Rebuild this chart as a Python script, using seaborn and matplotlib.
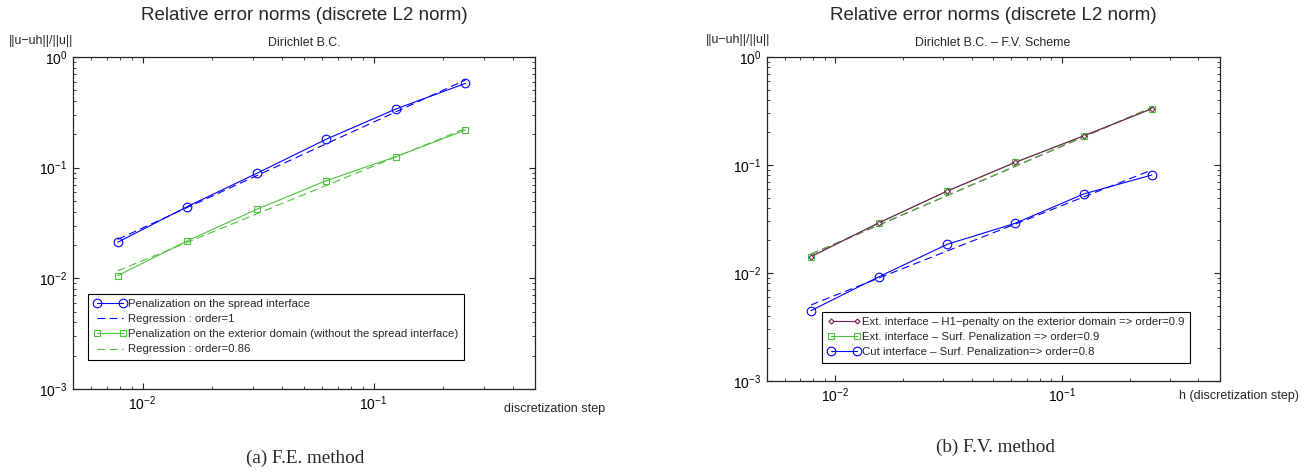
import numpy as np
import pandas as pd
import matplotlib
matplotlib.use("Agg")
import matplotlib.pyplot as plt
from matplotlib.ticker import LogLocator, NullFormatter
import seaborn as sns

# Discretization steps
h = [1/128, 1/64, 1/32, 1/16, 1/8, 1/4]
h_ends = [1/128, 1/4]

# (a) F.E. method
fe_spread = [0.0212, 0.0445, 0.0889, 0.181, 0.339, 0.578]
fe_spread_reg = [0.0225, 0.62]
fe_exterior = [0.01057, 0.0218, 0.0421, 0.0763, 0.1258, 0.219]
fe_exterior_reg = [0.0117, 0.226]

# (b) F.V. method
fv_h1 = [0.01416, 0.0292, 0.0574, 0.106, 0.186, 0.332]
fv_h1_reg = [0.0149, 0.340]
fv_surf = [0.01416, 0.0292, 0.0574, 0.106, 0.186, 0.332]
fv_surf_reg = [0.0150, 0.342]
fv_cut = [0.00448, 0.00925, 0.01844, 0.0289, 0.0539, 0.0808]
fv_cut_reg = [0.00506, 0.0899]

labels_fe = ["Penalization on the spread interface",
             "Regression : order=1",
             "Penalization on the exterior domain (without the spread interface)",
             "Regression : order=0.86"]
labels_fv = ["Ext. interface \u2013 H1\u2212penalty on the exterior domain => order=0.9",
             "Ext. interface \u2013 Surf. Penalization => order=0.9",
             "Cut interface \u2013 Surf. Penalization=> order=0.8"]

BLUE = "#0000ff"
GREEN = "#4cc43a"
PURPLE = "#7d1c5c"
DASH = (0, (7, 4))

sns.set_style("ticks")
plt.rcParams["font.family"] = ["Liberation Sans", "DejaVu Sans"]
plt.rcParams["mathtext.fontset"] = "custom"
plt.rcParams["mathtext.rm"] = "Liberation Sans"
plt.rcParams["mathtext.it"] = "Liberation Sans:italic"
plt.rcParams["axes.linewidth"] = 0.9
plt.rcParams["axes.edgecolor"] = "#222222"

W, H = 1309, 472
fig = plt.figure(figsize=(W / 100, H / 100), dpi=100)


def px_axes(x0, y0, x1, y1):
    return fig.add_axes([x0 / W, 1 - y1 / H, (x1 - x0) / W, (y1 - y0) / H])


def series(ax, x, y, color, ls="-", marker=None, ms=6, mfc="none", label=None, z=2):
    df = pd.DataFrame({"h": x, "err": y})
    sns.lineplot(data=df, x="h", y="err", ax=ax, color=color, linestyle=ls,
                 marker=marker, markersize=ms, markerfacecolor=mfc,
                 markeredgecolor=color, markeredgewidth=0.8, linewidth=0.8,
                 errorbar=None, label=label, legend=False, zorder=z)


def style_axes(ax):
    ax.set_xscale("log")
    ax.set_yscale("log")
    ax.set_xlim(0.005, 0.5)
    ax.set_ylim(1e-3, 1)
    ax.xaxis.set_major_locator(LogLocator(base=10, numticks=10))
    ax.yaxis.set_major_locator(LogLocator(base=10, numticks=10))
    ax.xaxis.set_minor_locator(LogLocator(base=10, subs=np.arange(2, 10), numticks=20))
    ax.yaxis.set_minor_locator(LogLocator(base=10, subs=np.arange(2, 10), numticks=20))
    ax.xaxis.set_minor_formatter(NullFormatter())
    ax.yaxis.set_minor_formatter(NullFormatter())
    ax.tick_params(which="both", direction="in", top=True, right=True,
                   colors="#222222", labelcolor="black", labelsize=10)
    ax.tick_params(which="major", length=4, width=0.8, pad=4)
    ax.tick_params(which="minor", length=2.5, width=0.6)
    ax.set_xlabel("")
    ax.set_ylabel("")
    for s in ax.spines.values():
        s.set_visible(True)


def legend(ax, anchor):
    leg = ax.legend(loc="upper left", bbox_to_anchor=anchor, fontsize=8.2,
                    frameon=True, fancybox=False, edgecolor="black",
                    framealpha=1, borderaxespad=0, borderpad=0.45,
                    labelspacing=0.45, handlelength=2.9, handletextpad=0.2,
                    numpoints=2)
    leg.get_frame().set_linewidth(0.8)


# ---- (a) F.E. method ----
ax1 = px_axes(73, 57, 535, 389)
style_axes(ax1)
series(ax1, h, fe_spread, BLUE, marker="o", ms=6.2, label=labels_fe[0])
series(ax1, h_ends, fe_spread_reg, BLUE, ls=DASH, label=labels_fe[1])
series(ax1, h, fe_exterior, GREEN, marker="s", ms=4.8, label=labels_fe[2])
series(ax1, h_ends, fe_exterior_reg, GREEN, ls=DASH, label=labels_fe[3])
style_axes(ax1)
legend(ax1, ((88 - 73) / 462, (389 - 294) / 332))

# ---- (b) F.V. method ----
ax2 = px_axes(767, 57, 1220, 381)
style_axes(ax2)
series(ax2, h, fv_h1, PURPLE, marker="D", ms=2.6, mfc="white", label=labels_fv[0], z=3)
series(ax2, h_ends, fv_h1_reg, PURPLE, ls=DASH, z=2)
series(ax2, h, fv_surf, GREEN, marker="s", ms=4.8, label=labels_fv[1], z=2)
series(ax2, h_ends, fv_surf_reg, GREEN, ls=DASH, z=2)
series(ax2, h, fv_cut, BLUE, marker="o", ms=6.2, label=labels_fv[2], z=2)
series(ax2, h_ends, fv_cut_reg, BLUE, ls=DASH, z=2)
style_axes(ax2)
legend(ax2, ((822 - 767) / 453, (381 - 312) / 324))

# ---- text around the panels ----
def ftext(x, y, s, **kw):
    fig.text(x / W, 1 - y / H, s, **kw)

ftext(304, 16, "Relative error norms (discrete L2 norm)", ha="center", va="center", fontsize=13.5)
ftext(993, 15, "Relative error norms (discrete L2 norm)", ha="center", va="center", fontsize=13.5)
ftext(304, 43, "Dirichlet B.C.", ha="center", va="center", fontsize=8.9)
ftext(993, 43, "Dirichlet B.C. \u2013 F.V. Scheme", ha="center", va="center", fontsize=8.9)
ftext(73, 41, "||u\u2212uh||/||u||", ha="right", va="center", fontsize=9)
ftext(770, 40, "||u\u2212uh||/||u||", ha="right", va="center", fontsize=9)
ftext(504, 409, "discretization step", ha="left", va="center", fontsize=9)
ftext(1179, 396, "h (discretization step)", ha="left", va="center", fontsize=9)
ftext(305, 458, "(a) F.E. method", ha="center", va="center", fontsize=13.8,
      family=["Liberation Serif", "DejaVu Serif"])
ftext(995, 447, "(b) F.V. method", ha="center", va="center", fontsize=13.8,
      family=["Liberation Serif", "DejaVu Serif"])

fig.savefig("out.png", dpi=100, facecolor="white")
